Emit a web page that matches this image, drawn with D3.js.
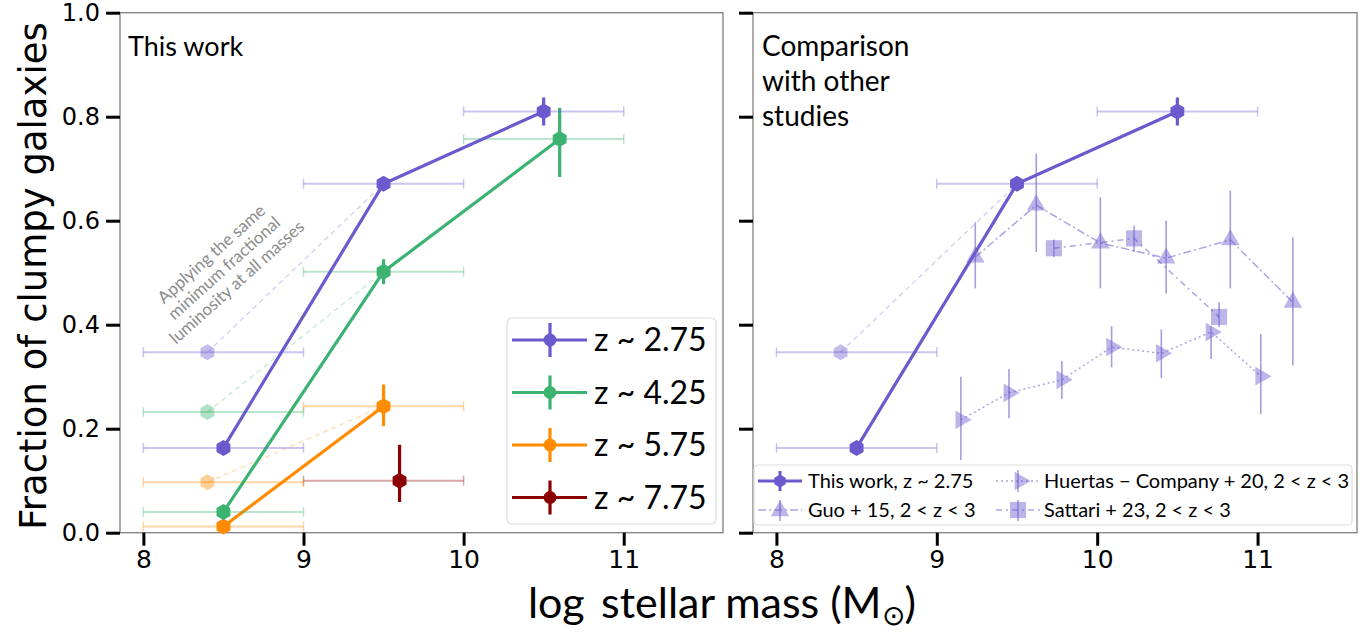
<!DOCTYPE html>
<html>
<head>
<meta charset="utf-8">
<script src="https://cdn.jsdelivr.net/npm/d3@7.9.0/dist/d3.min.js"></script>
<style>
  body { margin: 0; background: #fff; }
  svg { display: block; }
  .tick text { font-family: "DejaVu Sans", sans-serif; fill: #000; }
  .lbl { font-family: Lato, "Open Sans", sans-serif; fill: #000; }
</style>
</head>
<body>
<div id="chart"></div>
<script>
// ---- data ----
const yTicks = [0, 0.2, 0.4, 0.6, 0.8, 1.0];
const xTicks = [8, 9, 10, 11];

// this work, per redshift bin
const z275X = [8.5, 9.5, 10.5];
const z275Y = [0.163, 0.671, 0.81];
const z275Up = [0.008, 0.012, 0.027];
const z275Dn = [0.008, 0.012, 0.027];
const z275Lo = [8, 9, 10];
const z275Hi = [9, 10, 11];

const z425X = [8.5, 9.5, 10.6];
const z425Y = [0.04, 0.502, 0.757];
const z425Up = [0.008, 0.024, 0.06];
const z425Dn = [0.008, 0.024, 0.073];
const z425Lo = [8, 9, 10];
const z425Hi = [9, 10, 11];

const z575X = [8.5, 9.5];
const z575Y = [0.012, 0.243];
const z575Up = [0.006, 0.042];
const z575Dn = [0.006, 0.038];
const z575Lo = [8, 9];
const z575Hi = [9, 10];

const z775X = [9.6];
const z775Y = [0.1];
const z775Up = [0.069];
const z775Dn = [0.041];
const z775Lo = [9];
const z775Hi = [10];

// same minimum fractional luminosity at all masses (faded points)
const fadedX = 8.4;
const fadedLo = 8;
const fadedHi = 9;
const fadedY = [0.347, 0.232, 0.097]; // z~2.75, 4.25, 5.75

// other studies, 2 < z < 3
const guoX = [9.24, 9.62, 10.02, 10.43, 10.83, 11.22];
const guoY = [0.53, 0.63, 0.557, 0.528, 0.563, 0.443];
const guoLo = [0.47, 0.54, 0.47, 0.46, 0.47, 0.322];
const guoHi = [0.597, 0.729, 0.645, 0.60, 0.658, 0.568];

const huertasX = [9.15, 9.45, 9.78, 10.09, 10.40, 10.71, 11.02];
const huertasY = [0.217, 0.269, 0.294, 0.357, 0.345, 0.386, 0.301];
const huertasLo = [0.14, 0.22, 0.257, 0.318, 0.297, 0.334, 0.228];
const huertasHi = [0.30, 0.315, 0.33, 0.397, 0.391, 0.397, 0.382];

const sattariX = [9.73, 10.23, 10.76];
const sattariY = [0.547, 0.566, 0.415];
const sattariLo = [0.53, 0.54, 0.395];
const sattariHi = [0.564, 0.591, 0.443];

const series = [
  { label: 'z ~ 2.75', color: '#6a5acd', x: z275X, y: z275Y, up: z275Up, dn: z275Dn, lo: z275Lo, hi: z275Hi, faded: fadedY[0] },
  { label: 'z ~ 4.25', color: '#3cb371', x: z425X, y: z425Y, up: z425Up, dn: z425Dn, lo: z425Lo, hi: z425Hi, faded: fadedY[1] },
  { label: 'z ~ 5.75', color: '#ff8c00', x: z575X, y: z575Y, up: z575Up, dn: z575Dn, lo: z575Lo, hi: z575Hi, faded: fadedY[2] },
  { label: 'z ~ 7.75', color: '#8b0000', x: z775X, y: z775Y, up: z775Up, dn: z775Dn, lo: z775Lo, hi: z775Hi, faded: null },
];

const width = 1372, height = 633;
const plotTop = 12.7, plotBottom = 532.7;
const panels = [
  { left: 120, right: 723 },
  { left: 753, right: 1357 },
];
const cmpColor = '#6a5acd';

const svg = d3.select('#chart').append('svg')
  .attr('width', width).attr('height', height);

const yScale = d3.scaleLinear().domain([0, 1]).range([plotBottom, plotTop]);

function hexPath(r) {
  const pts = d3.range(6).map(i => {
    const a = Math.PI / 2 + i * Math.PI / 3;
    return [r * Math.cos(a), -r * Math.sin(a)];
  });
  return 'M' + pts.map(p => p.join(',')).join('L') + 'Z';
}

function makeX(p) {
  return d3.scaleLinear().domain([7.854, 11.62]).range([p.left, p.right]);
}

function drawFrame(p, showLabels) {
  const x = makeX(p);
  const g = svg.append('g');
  g.append('rect')
    .attr('x', p.left).attr('y', plotTop)
    .attr('width', p.right - p.left).attr('height', plotBottom - plotTop)
    .attr('fill', 'none').attr('stroke', '#808080').attr('stroke-width', 1.3);

  const ya = d3.axisLeft(yScale).tickValues(yTicks).tickSize(14).tickPadding(6)
    .tickFormat(showLabels ? d3.format('.1f') : '');
  const yg = g.append('g').attr('transform', `translate(${p.left},0)`).call(ya);
  yg.select('.domain').remove();
  yg.selectAll('.tick line').attr('stroke', '#000').attr('stroke-width', 3);
  yg.selectAll('.tick text').attr('font-size', 24);

  const xa = d3.axisBottom(x).tickValues(xTicks).tickSize(13).tickPadding(5)
    .tickFormat(d3.format('d'));
  const xg = g.append('g').attr('transform', `translate(0,${plotBottom})`).call(xa);
  xg.select('.domain').remove();
  xg.selectAll('.tick line').attr('stroke', '#000').attr('stroke-width', 3);
  xg.selectAll('.tick text').attr('font-size', 25);
  return x;
}

function drawXerr(g, x, lo, hi, yv, color) {
  const yy = yScale(yv);
  g.append('line').attr('x1', x(lo)).attr('x2', x(hi)).attr('y1', yy).attr('y2', yy)
    .attr('stroke', color).attr('stroke-opacity', 0.35).attr('stroke-width', 2);
  [lo, hi].forEach(v => {
    g.append('line').attr('x1', x(v)).attr('x2', x(v)).attr('y1', yy - 5).attr('y2', yy + 5)
      .attr('stroke', color).attr('stroke-opacity', 0.35).attr('stroke-width', 1.5);
  });
}

function drawThisWork(x, s, g) {
  // faded point + dashed connector
  if (s.faded !== null) {
    const i = s.x.indexOf(9.5);
    g.append('line')
      .attr('x1', x(fadedX)).attr('y1', yScale(s.faded))
      .attr('x2', x(s.x[i])).attr('y2', yScale(s.y[i]))
      .attr('stroke', s.color).attr('stroke-opacity', 0.3)
      .attr('stroke-width', 1.3).attr('stroke-dasharray', '5,4');
    drawXerr(g, x, fadedLo, fadedHi, s.faded, s.color);
    g.append('path').attr('d', hexPath(8))
      .attr('transform', `translate(${x(fadedX)},${yScale(s.faded)})`)
      .attr('fill', s.color).attr('fill-opacity', 0.4);
  }
  s.x.forEach((v, i) => drawXerr(g, x, s.lo[i], s.hi[i], s.y[i], s.color));

  g.append('path')
    .datum(s.x.map((v, i) => [v, s.y[i]]))
    .attr('d', d3.line().x(d => x(d[0])).y(d => yScale(d[1])))
    .attr('fill', 'none').attr('stroke', s.color).attr('stroke-width', 3.2);

  s.x.forEach((v, i) => {
    g.append('line')
      .attr('x1', x(v)).attr('x2', x(v))
      .attr('y1', yScale(s.y[i] + s.up[i])).attr('y2', yScale(s.y[i] - s.dn[i]))
      .attr('stroke', s.color).attr('stroke-width', 3.2);
    g.append('path').attr('d', hexPath(8))
      .attr('transform', `translate(${x(v)},${yScale(s.y[i])})`)
      .attr('fill', s.color);
  });
}

// ---------- left panel ----------
const xL = drawFrame(panels[0], true);
const gL = svg.append('g');
series.slice().reverse().forEach(s => drawThisWork(xL, s, gL));

svg.append('text').attr('class', 'lbl')
  .attr('x', 128).attr('y', 56).attr('font-size', 27).text('This work');

// annotation
const ann = svg.append('g').attr('transform', 'translate(224,268) rotate(-42)');
['Applying the same', 'minimum fractional', 'luminosity at all masses'].forEach((t, i) => {
  ann.append('text').attr('class', 'lbl')
    .attr('x', 0).attr('y', (i - 1) * 19 + 6)
    .attr('text-anchor', 'middle').attr('font-size', 17)
    .style('fill', '#8c8c8c').text(t);
});

// left legend
const legL = svg.append('g').attr('transform', 'translate(507,318)');
legL.append('rect').attr('width', 209).attr('height', 206).attr('rx', 5)
  .attr('fill', '#fff').attr('fill-opacity', 0.85).attr('stroke', '#ddd').attr('stroke-width', 1.2);
series.forEach((s, i) => {
  const cy = 22 + i * 52.5;
  legL.append('line').attr('x1', 5).attr('x2', 80).attr('y1', cy).attr('y2', cy)
    .attr('stroke', s.color).attr('stroke-width', 3.2);
  legL.append('line').attr('x1', 43).attr('x2', 43).attr('y1', cy - 17).attr('y2', cy + 17)
    .attr('stroke', s.color).attr('stroke-width', 3.2);
  legL.append('circle').attr('cx', 43).attr('cy', cy).attr('r', 6.5).attr('fill', s.color);
  legL.append('text').attr('class', 'lbl').attr('x', 87).attr('y', cy + 11)
    .attr('font-size', 32).text(s.label);
});

// ---------- right panel ----------
const xR = drawFrame(panels[1], false);
const gR = svg.append('g');

const triUp = d3.symbol().type(d3.symbolTriangle).size(150);
const triRight = d3.symbol().type(d3.symbolTriangle).size(150);
const square = d3.symbol().type(d3.symbolSquare).size(260);

function drawComparison(xs, ys, los, his, dash, sym, rot) {
  xs.forEach((v, i) => {
    gR.append('line').attr('x1', xR(v)).attr('x2', xR(v))
      .attr('y1', yScale(his[i])).attr('y2', yScale(los[i]))
      .attr('stroke', cmpColor).attr('stroke-opacity', 0.6).attr('stroke-width', 1.6);
  });
  gR.append('path')
    .datum(xs.map((v, i) => [v, ys[i]]))
    .attr('d', d3.line().x(d => xR(d[0])).y(d => yScale(d[1])))
    .attr('fill', 'none').attr('stroke', cmpColor).attr('stroke-opacity', 0.55)
    .attr('stroke-width', 1.5).attr('stroke-dasharray', dash);
  xs.forEach((v, i) => {
    gR.append('path').attr('d', sym())
      .attr('transform', `translate(${xR(v)},${yScale(ys[i])}) rotate(${rot})`)
      .attr('fill', cmpColor).attr('fill-opacity', 0.45);
  });
}

drawComparison(guoX, guoY, guoLo, guoHi, '8,3,2,3', triUp, 0);
drawComparison(huertasX, huertasY, huertasLo, huertasHi, '2,3', triRight, 90);
drawComparison(sattariX, sattariY, sattariLo, sattariHi, '6,4,2,4', square, 0);
drawThisWork(xR, series[0], gR);

['Comparison', 'with other', 'studies'].forEach((t, i) => {
  svg.append('text').attr('class', 'lbl')
    .attr('x', 762).attr('y', 56 + i * 35).attr('font-size', 28).text(t);
});

// right legend
const legR = svg.append('g').attr('transform', 'translate(754,465)');
legR.append('rect').attr('width', 598).attr('height', 60).attr('rx', 4)
  .attr('fill', '#fff').attr('fill-opacity', 0.85).attr('stroke', '#ddd').attr('stroke-width', 1.2);

function legHandle(g, cx, cy, dash, w, opacity) {
  g.append('line').attr('x1', cx - 22).attr('x2', cx + 22).attr('y1', cy).attr('y2', cy)
    .attr('stroke', cmpColor).attr('stroke-opacity', opacity)
    .attr('stroke-width', w).attr('stroke-dasharray', dash);
}
// this work
legHandle(legR, 26, 16, null, 3.2, 1);
legR.append('line').attr('x1', 26).attr('x2', 26).attr('y1', 6).attr('y2', 26)
  .attr('stroke', cmpColor).attr('stroke-width', 3);
legR.append('path').attr('d', hexPath(6.5)).attr('transform', 'translate(26,16)').attr('fill', cmpColor);
legR.append('text').attr('class', 'lbl').attr('x', 54).attr('y', 23).attr('font-size', 20)
  .text('This work, z ~ 2.75');
// guo
legHandle(legR, 26, 45, '8,3,2,3', 1.5, 0.55);
legR.append('line').attr('x1', 26).attr('x2', 26).attr('y1', 35).attr('y2', 56)
  .attr('stroke', cmpColor).attr('stroke-opacity', 0.6).attr('stroke-width', 1.6);
legR.append('path').attr('d', triUp()).attr('transform', 'translate(26,46)')
  .attr('fill', cmpColor).attr('fill-opacity', 0.45);
legR.append('text').attr('class', 'lbl').attr('x', 54).attr('y', 52).attr('font-size', 20)
  .text('Guo + 15, 2 < z < 3');
// huertas
legHandle(legR, 264, 16, '2,3', 1.5, 0.55);
legR.append('line').attr('x1', 264).attr('x2', 264).attr('y1', 5).attr('y2', 27)
  .attr('stroke', cmpColor).attr('stroke-opacity', 0.6).attr('stroke-width', 1.6);
legR.append('path').attr('d', triRight()).attr('transform', 'translate(266,16) rotate(90)')
  .attr('fill', cmpColor).attr('fill-opacity', 0.45);
legR.append('text').attr('class', 'lbl').attr('x', 290).attr('y', 23).attr('font-size', 20)
  .text('Huertas \u2212 Company + 20, 2 < z < 3');
// sattari
legHandle(legR, 264, 45, '6,4,2,4', 1.5, 0.55);
legR.append('line').attr('x1', 264).attr('x2', 264).attr('y1', 35).attr('y2', 56)
  .attr('stroke', cmpColor).attr('stroke-opacity', 0.6).attr('stroke-width', 1.6);
legR.append('path').attr('d', square()).attr('transform', 'translate(264,45)')
  .attr('fill', cmpColor).attr('fill-opacity', 0.45);
legR.append('text').attr('class', 'lbl').attr('x', 290).attr('y', 52).attr('font-size', 20)
  .text('Sattari + 23, 2 < z < 3');

// ---------- axis titles ----------
svg.append('text')
  .attr('transform', 'translate(46,276) rotate(-90)')
  .attr('text-anchor', 'middle')
  .attr('font-family', '"DejaVu Sans", sans-serif').attr('font-size', 37)
  .text('Fraction of clumpy galaxies');

const xt = svg.append('text').attr('class', 'lbl')
  .attr('x', 722).attr('y', 618).attr('text-anchor', 'middle').attr('font-size', 43);
xt.append('tspan').text('log\u2009 stellar mass (M');
xt.append('tspan').attr('font-size', 28).attr('dy', 7).text('\u2299');
xt.append('tspan').attr('dy', -7).text(')');
</script>
</body>
</html>
